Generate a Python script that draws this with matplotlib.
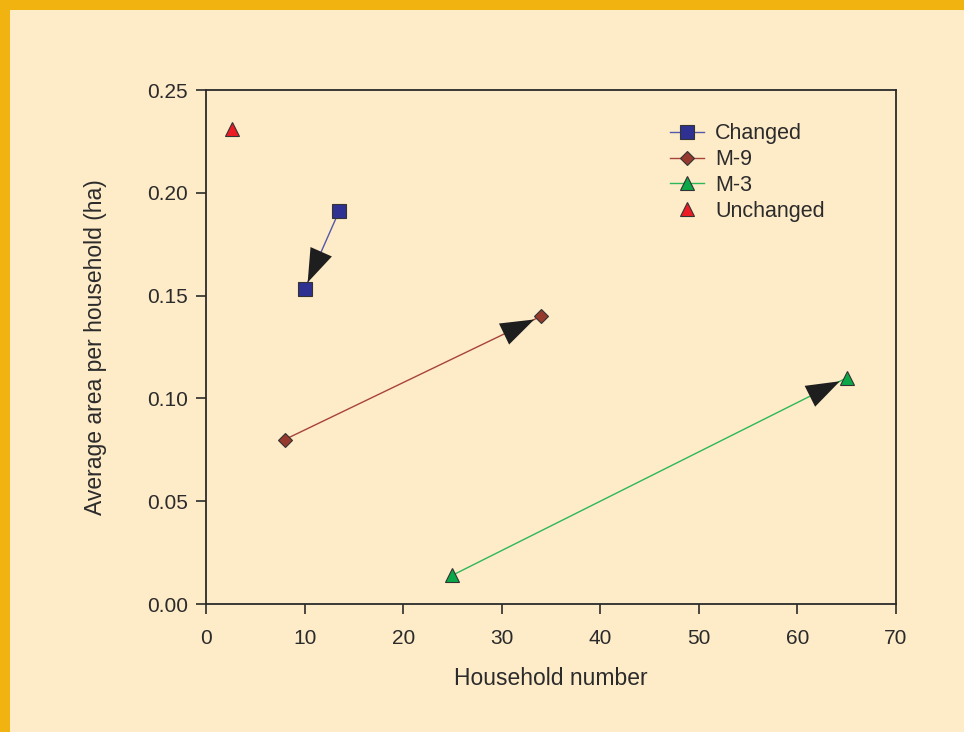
import matplotlib
matplotlib.use("Agg")
import matplotlib.pyplot as plt
from matplotlib.patches import Rectangle

plt.rcParams['font.family'] = ['Liberation Sans', 'DejaVu Sans']

# Household number (x) and average area per household in ha (y)
changed_x = [13.5, 10.0]
changed_y = [0.191, 0.153]
m9_x = [8.0, 34.0]
m9_y = [0.080, 0.140]
m3_x = [25.0, 65.0]
m3_y = [0.014, 0.110]
unchanged_x = [2.6]
unchanged_y = [0.231]

x_ticks = [0, 10, 20, 30, 40, 50, 60, 70]
y_ticks = [0.00, 0.05, 0.10, 0.15, 0.20, 0.25]

bg = '#FEEBC8'
border = '#F0B30F'
ink = '#2b2b2b'

fig = plt.figure(figsize=(9.64, 7.32), dpi=100, facecolor=bg)
# orange frame along the top and left edges
fig.patches.append(Rectangle((0, 1 - 10 / 732), 1, 10 / 732, transform=fig.transFigure,
                             facecolor=border, edgecolor='none', zorder=0))
fig.patches.append(Rectangle((0, 0), 10 / 964, 1, transform=fig.transFigure,
                             facecolor=border, edgecolor='none', zorder=0))

ax = fig.add_axes([206 / 964, 1 - 604 / 732, 690 / 964, 514 / 732])
ax.set_facecolor(bg)

series = [
    ('Changed', changed_x, changed_y, 's', '#2E3192', '#5558A8', 9.5),
    ('M-9', m9_x, m9_y, 'D', '#963A2E', '#A8433A', 7),
    ('M-3', m3_x, m3_y, '^', '#0BA84A', '#2DB858', 10),
]
for label, xs, ys, mk, fc, lc, ms in series:
    ax.plot(xs, ys, color=lc, lw=1.0, marker=mk, markersize=ms,
            markerfacecolor=fc, markeredgecolor='#333333', markeredgewidth=0.8,
            label=label, zorder=3)
    # arrowhead pointing from the first to the second observation
    fx = xs[0] + 0.8 * (xs[1] - xs[0])
    fy = ys[0] + 0.8 * (ys[1] - ys[0])
    ax.annotate('', xy=(xs[1], ys[1]), xytext=(fx, fy),
                arrowprops=dict(arrowstyle='-|>,head_length=1.15,head_width=0.4',
                                mutation_scale=21, color='#1e1e1e', lw=0,
                                shrinkA=0, shrinkB=5.5),
                zorder=4)

ax.plot(unchanged_x, unchanged_y, ls='none', marker='^', markersize=10,
        markerfacecolor='#ED1C24', markeredgecolor='#333333', markeredgewidth=0.8,
        label='Unchanged', zorder=3)

ax.set_xlim(0, 70)
ax.set_ylim(0, 0.25)
ax.set_xticks(x_ticks)
ax.set_xticklabels([str(t) for t in x_ticks])
ax.set_yticks(y_ticks)
ax.set_yticklabels([f'{t:.2f}' for t in y_ticks])
ax.tick_params(direction='out', length=7, width=1.2, color=ink, labelcolor=ink,
               labelsize=15, pad=11)
ax.tick_params(axis='y', pad=6)
for sp in ax.spines.values():
    sp.set_color(ink)
    sp.set_linewidth(1.3)

ax.set_xlabel('Household number', fontsize=16.5, color=ink, labelpad=14)
ax.set_ylabel('Average area per household (ha)', fontsize=16.5, color=ink, labelpad=29)

leg = ax.legend(loc='upper left', bbox_to_anchor=(0.672, 0.935), frameon=False,
                fontsize=15.5, handlelength=1.6, handletextpad=0.5,
                labelspacing=0.22, borderaxespad=0, borderpad=0)
for t in leg.get_texts():
    t.set_color(ink)

fig.savefig('out.png', dpi=100, facecolor=bg)
